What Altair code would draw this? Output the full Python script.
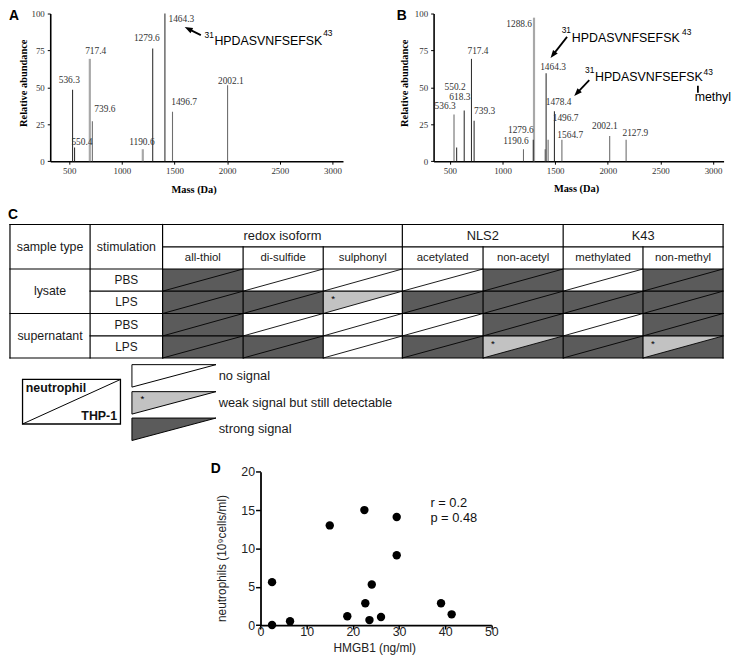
import math
import altair as alt
import pandas as pd

SANS = "Liberation Sans"
SERIF = "Liberation Serif"

# ============================ DATA ============================
# Panel A - MALDI spectrum (peak mass, relative abundance, tone)
A_MASS = [532, 551, 696, 720, 1199, 1293, 1409, 1481, 2004]
A_ABUNDANCE = [48.3, 9.2, 69.3, 27.0, 8.1, 76.4, 100.0, 33.5, 51.5]
A_TONE = ["dark", "dark", "light", "mid", "light", "dark", "dark", "mid", "mid"]
A_PEAK_LABELS = ["536.3", "550.4", "717.4", "739.6", "1190.6", "1279.6", "1464.3", "1496.7", "2002.1"]
A_LABEL_MASS = [501, 621, 752, 839, 1190, 1237, 1565, 1591, 2035]
A_LABEL_ABUNDANCE = [54.9, 12.9, 74.7, 35.6, 12.9, 83.3, 96.1, 40.3, 54.3]

# Panel B - MALDI spectrum
B_MASS = [539, 564, 636, 705, 730, 1199, 1299, 1292, 1405, 1414, 1433, 1493, 1564, 2018, 2174]
B_ABUNDANCE = [31.7, 9.2, 34.3, 69.3, 27.4, 8.1, 97.2, 14.6, 8.1, 59.6, 14.6, 33.9, 14.6, 17.1, 14.6]
B_TONE = ["mid", "dark", "dark", "dark", "dark", "mid", "light", "dark", "mid", "dark", "mid",
          "dark", "mid", "mid", "mid"]
B_PEAK_LABELS = ["536.3", "550.2", "618.3", "717.4", "739.3", "1190.6", "1279.6", "1288.6",
                 "1464.3", "1478.4", "1496.7", "1564.7", "2002.1", "2127.9"]
B_LABEL_MASS = [455, 549, 595, 767, 830, 1127, 1174, 1158, 1480, 1533, 1599, 1643, 1972, 2262]
B_LABEL_ABUNDANCE = [37.1, 50.4, 43.5, 74.7, 33.9, 13.5, 21.4, 92.9, 63.5, 39.8, 29.2, 17.8, 23.6, 19.3]

PEPTIDE = "HPDASVNFSEFSK"
PEP_FIRST, PEP_LAST = "31", "43"
# annotation anchors in data units: (sup1 mass, sup1 ab, main mass, main ab, sup2 mass, sup2 ab)
A_PEPTIDES = [(1785, 85.4, 1879, 81.1, 2912, 86.5)]
A_ARROWS = [(1750, 85.4, 1597, 90.8)]  # tail mass, tail ab, tip mass, tip ab
B_PEPTIDES = [(1562, 88.6, 1658, 83.3, 2706, 87.6), (1784, 61.8, 1878, 57.1, 2910, 60.7)]
B_ARROWS = [(1613, 84.2, 1456, 69.9), (1824, 54.9, 1681, 44.2)]
B_METHYL = ("methyl", 2825, 43.5)
B_METHYL_BAR = (2856, 51.1, 46.4)

# Panel C - table
GROUPS = ["redox isoform", "NLS2", "K43"]
GROUP_SPAN = [3, 2, 2]
SUBCOLS = ["all-thiol", "di-sulfide", "sulphonyl", "acetylated", "non-acetyl", "methylated", "non-methyl"]
SAMPLE_TYPES = ["lysate", "supernatant"]
STIMULATIONS = ["PBS", "LPS", "PBS", "LPS"]
# 0 = no signal, 1 = weak signal, 2 = strong signal
NEUTROPHIL_SIGNAL = [
    [2, 0, 0, 0, 2, 0, 2],
    [2, 2, 1, 2, 2, 2, 2],
    [2, 0, 0, 0, 2, 0, 2],
    [2, 2, 0, 2, 1, 2, 1],
]
THP1_SIGNAL = [
    [2, 0, 0, 0, 2, 0, 2],
    [2, 2, 0, 2, 2, 2, 2],
    [2, 0, 0, 0, 2, 0, 2],
    [2, 2, 0, 2, 2, 2, 2],
]
LEGEND_LABELS = ["no signal", "weak signal but still detectable", "strong signal"]

# Panel D - scatter
D_HMGB1 = [2.5, 2.5, 6.4, 15.0, 18.8, 22.5, 22.7, 23.6, 24.1, 26.1, 29.5, 29.5, 39.1, 41.4]
D_NEUTROPHILS = [5.6, 0.0, 0.5, 13.0, 1.15, 15.0, 2.85, 0.65, 5.3, 1.05, 14.1, 9.1, 2.85, 1.4]
D_STATS = ["r = 0.2", "p = 0.48"]
D_STATS_POS = [(36.8, 15.95), (36.8, 14.0)]

PANEL_LETTERS = ["A", "B", "C", "D"]

# ============================ LAYOUT ============================
W, H = 731, 649
M = 8  # page margin


def px(v):
    return v - M


SPEC_Y_PX = (159.3, 10.0)
A_X_DOMAIN, A_X_PX = (320, 3100), (50.7, 346.7)
B_X_DOMAIN, B_X_PX = (345, 3100), (438.3, 731.5)
D_X_PX, D_Y_PX = (263.3, 496.7), (628.3, 473.3)

COL_EDGES = [10, 91, 164.3, 245.7, 326.7, 406.7, 488.3, 569.3, 650, 731]
ROW_EDGES = [223.3, 246, 268.3, 290.7, 313.3, 336, 358.3]
LEG_BOX = (22.7, 380, 121.7, 425)
GLYPH_X = (133.3, 218.3)
GLYPH_TOP = [365, 392.3, 419]
GLYPH_H = 22.7
LEG_TEXT_X = 221
LETTER_POS = [(9, 13), (401, 13), (8, 213.5), (213, 471)]

TONE_COLOR = {"dark": "#333333", "mid": "#6e6e6e", "light": "#a8a8a8"}
TONE_WIDTH = {"dark": 1.1, "mid": 1.1, "light": 2.2}
CODE_COLOR = ["#ffffff", "#c2c2c2", "#5b5b5b"]
HEAD_SHAPE = "M0,-1L0.75,1L-0.75,1Z"
HEAD_SIZE = 64
HEAD_BACK = 4.0


def spectrum_layers(mass, abund, tone, labels, lab_m, lab_a, xdom, xpx, peptides, arrows,
                    ytitle_x, xtitle_x, xtitle_y, methyl=None, methyl_bar=None):
    xs = alt.Scale(domain=list(xdom), range=[px(xpx[0]), px(xpx[1])], nice=False, zero=False)
    ys = alt.Scale(domain=[0, 100], range=[px(SPEC_Y_PX[0]), px(SPEC_Y_PX[1])], nice=False, zero=False)
    x_axis = alt.Axis(orient="bottom", offset=px(SPEC_Y_PX[0]) - H,
                      values=[500, 1000, 1500, 2000, 2500, 3000], format="d", grid=False,
                      labelFlush=False, domainColor="black", domainWidth=1.6, tickColor="black",
                      tickSize=3, tickWidth=1, labelFont=SERIF, labelFontSize=9, labelColor="#333",
                      labelPadding=2, title="Mass (Da)", titleFont=SERIF, titleFontSize=10.5,
                      titleFontWeight="bold", titleColor="black", titleX=px(xtitle_x),
                      titleY=xtitle_y - SPEC_Y_PX[0], titleBaseline="middle")
    y_axis = alt.Axis(orient="left", offset=-px(xpx[0]), values=[0, 25, 50, 75, 100], grid=False,
                      labelFlush=False, domainColor="black", domainWidth=1.6, tickColor="black",
                      tickSize=3, labelFont=SERIF, labelFontSize=9, labelColor="#333", labelPadding=3,
                      title="Relative abundance", titleFont=SERIF, titleFontSize=10.5,
                      titleFontWeight="bold", titleColor="black", titleX=ytitle_x - xpx[0],
                      titleY=px(80), titleBaseline="middle", titleAngle=270)

    peaks = pd.DataFrame({"m": mass, "a": abund, "base": 0,
                          "col": [TONE_COLOR[t] for t in tone],
                          "w": [TONE_WIDTH[t] for t in tone]})
    peak_layer = alt.Chart(peaks).mark_rule().encode(
        x=alt.X("m:Q", scale=xs, axis=x_axis),
        y=alt.Y("a:Q", scale=ys, axis=y_axis),
        y2=alt.Y2("base:Q"),
        color=alt.Color("col:N", scale=None),
        strokeWidth=alt.StrokeWidth("w:Q", scale=None),
    )
    labs = pd.DataFrame({"t": labels, "m": lab_m, "a": lab_a})
    lab_layer = alt.Chart(labs).mark_text(font=SERIF, fontSize=9.5, color="#333",
                                          align="center", baseline="middle").encode(
        x=alt.X("m:Q", scale=xs, axis=None), y=alt.Y("a:Q", scale=ys, axis=None), text="t:N")

    rows = []
    for (m1, a1, m2, a2, m3, a3) in peptides:
        rows.append(dict(t=PEP_FIRST, m=m1, a=a1, fs=8.5))
        rows.append(dict(t=PEPTIDE, m=m2, a=a2, fs=12.5))
        rows.append(dict(t=PEP_LAST, m=m3, a=a3, fs=8.5))
    if methyl is not None:
        rows.append(dict(t=methyl[0], m=methyl[1], a=methyl[2], fs=12.5))
    pep_layer = alt.Chart(pd.DataFrame(rows)).mark_text(font=SANS, color="black", align="left",
                                                        baseline="middle").encode(
        x=alt.X("m:Q", scale=xs, axis=None), y=alt.Y("a:Q", scale=ys, axis=None), text="t:N",
        size=alt.Size("fs:Q", scale=None))

    kx = (xpx[1] - xpx[0]) / (xdom[1] - xdom[0])
    ky = (SPEC_Y_PX[0] - SPEC_Y_PX[1]) / 100.0
    shafts, heads = [], []
    for tm, ta, hm, ha in arrows:
        dx = (hm - tm) * kx
        dy = -(ha - ta) * ky
        L = math.hypot(dx, dy)
        ux, uy = dx / L, dy / L
        ang = math.degrees(math.atan2(ux, -uy)) % 360
        cm = hm - ux * HEAD_BACK / kx
        ca = ha + uy * HEAD_BACK / ky
        shafts.append(dict(m1=tm, a1=ta, m2=cm, a2=ca))
        heads.append(dict(m=cm, a=ca, ang=ang))
    if methyl_bar is not None:
        shafts.append(dict(m1=methyl_bar[0], a1=methyl_bar[1], m2=methyl_bar[0], a2=methyl_bar[2]))
    shaft_layer = alt.Chart(pd.DataFrame(shafts)).mark_rule(color="black", strokeWidth=1.8).encode(
        x=alt.X("m1:Q", scale=xs, axis=None), y=alt.Y("a1:Q", scale=ys, axis=None),
        x2=alt.X2("m2:Q"), y2=alt.Y2("a2:Q"))
    head_layer = alt.Chart(pd.DataFrame(heads)).mark_point(
        shape=HEAD_SHAPE, filled=True, size=HEAD_SIZE, color="black", opacity=1, strokeWidth=0).encode(
        x=alt.X("m:Q", scale=xs, axis=None), y=alt.Y("a:Q", scale=ys, axis=None),
        angle=alt.Angle("ang:Q", scale=None))
    return [peak_layer, lab_layer, pep_layer, shaft_layer, head_layer]


layers_a = spectrum_layers(A_MASS, A_ABUNDANCE, A_TONE, A_PEAK_LABELS, A_LABEL_MASS, A_LABEL_ABUNDANCE,
                           A_X_DOMAIN, A_X_PX, A_PEPTIDES, A_ARROWS,
                           ytitle_x=23.3, xtitle_x=195.7, xtitle_y=187.7)
layers_b = spectrum_layers(B_MASS, B_ABUNDANCE, B_TONE, B_PEAK_LABELS, B_LABEL_MASS, B_LABEL_ABUNDANCE,
                           B_X_DOMAIN, B_X_PX, B_PEPTIDES, B_ARROWS,
                           ytitle_x=409.3, xtitle_x=582.3, xtitle_y=186.7,
                           methyl=B_METHYL, methyl_bar=B_METHYL_BAR)

# ---------------- Panel D ----------------
dxs = alt.Scale(domain=[0, 50], range=[px(D_X_PX[0]), px(D_X_PX[1])], nice=False, zero=False)
dys = alt.Scale(domain=[0, 20], range=[px(D_Y_PX[0]), px(D_Y_PX[1])], nice=False, zero=False)
d_x_axis = alt.Axis(orient="bottom", offset=px(D_Y_PX[0]) - H, values=[0, 10, 20, 30, 40, 50],
                    grid=False, labelFlush=False, domainColor="black", domainWidth=1.8,
                    tickColor="black", tickWidth=1.5, tickSize=4, labelFont=SANS, labelFontSize=12.5,
                    labelColor="#222", labelPadding=-3, title="HMGB1 (ng/ml)", titleFont=SANS,
                    titleFontSize=12, titleFontWeight="normal", titleColor="#222",
                    titleX=px(378.3), titleY=651.5 - D_Y_PX[0], titleBaseline="middle")
d_y_axis = alt.Axis(orient="left", offset=-px(D_X_PX[0]), values=[0, 5, 10, 15, 20], grid=False,
                    labelFlush=False, domainColor="black", domainWidth=1.8, tickColor="black",
                    tickWidth=1.5, tickSize=5, labelFont=SANS, labelFontSize=12.5, labelColor="#222",
                    labelPadding=1, title="neutrophils (10⁹cells/ml)", titleFont=SANS,
                    titleFontSize=12, titleFontWeight="normal", titleColor="#222",
                    titleX=224 - D_X_PX[0], titleY=px(560.5), titleBaseline="middle", titleAngle=270)
d_points = alt.Chart(pd.DataFrame({"h": D_HMGB1, "n": D_NEUTROPHILS})).mark_circle(
    size=72, color="black", opacity=1).encode(
    x=alt.X("h:Q", scale=dxs, axis=d_x_axis), y=alt.Y("n:Q", scale=dys, axis=d_y_axis))
d_stats = alt.Chart(pd.DataFrame({"t": D_STATS, "h": [p[0] for p in D_STATS_POS],
                                  "n": [p[1] for p in D_STATS_POS]})).mark_text(
    font=SANS, fontSize=13, color="#111", align="left", baseline="middle").encode(
    x=alt.X("h:Q", scale=dxs, axis=None), y=alt.Y("n:Q", scale=dys, axis=None), text="t:N")
layers_d = [d_points, d_stats]

# ---------------- Panel C (table) + letters, in page coordinates ----------------
pxs = alt.Scale(domain=[0, 739], range=[-M, 739 - M], nice=False, zero=False)
pys = alt.Scale(domain=[0, 665], range=[-M, 665 - M], nice=False, zero=False)


def PX(f):
    return alt.X(f, scale=pxs, axis=None)


def PY(f):
    return alt.Y(f, scale=pys, axis=None)


def mid(a, b):
    return (a + b) / 2.0


cells, tris, diags, stars = [], [], [], []
for r in range(len(STIMULATIONS)):
    y0, y1 = ROW_EDGES[r + 2], ROW_EDGES[r + 3]
    for c in range(len(SUBCOLS)):
        x0, x1 = COL_EDGES[c + 2], COL_EDGES[c + 3]
        cid = f"{r}-{c}"
        cells.append(dict(x0=x0, x1=x1, y0=y0, y1=y1, fill=CODE_COLOR[THP1_SIGNAL[r][c]]))
        f = CODE_COLOR[NEUTROPHIL_SIGNAL[r][c]]
        tris.append(dict(id=cid, x=x0, yt=y0, yb=y1, fill=f))
        tris.append(dict(id=cid, x=x1, yt=y0, yb=y0, fill=f))
        diags.append(dict(x0=x0, y0=y1, x1=x1, y1=y0))
        if NEUTROPHIL_SIGNAL[r][c] == 1:
            stars.append(dict(x=x0 + 10, y=y0 + 8, t="*"))

cell_layer = alt.Chart(pd.DataFrame(cells)).mark_rect(strokeWidth=0).encode(
    x=PX("x0:Q"), x2="x1:Q", y=PY("y0:Q"), y2="y1:Q", color=alt.Color("fill:N", scale=None))
tri_layer = alt.Chart(pd.DataFrame(tris)).mark_area(opacity=1).encode(
    x=PX("x:Q"), y=PY("yt:Q"), y2="yb:Q", detail="id:N", color=alt.Color("fill:N", scale=None))
diag_layer = alt.Chart(pd.DataFrame(diags)).mark_rule(color="black", strokeWidth=0.9).encode(
    x=PX("x0:Q"), y=PY("y0:Q"), x2="x1:Q", y2="y1:Q")

L_, R_ = COL_EDGES[0], COL_EDGES[-1]
top_, bot_ = ROW_EDGES[0], ROW_EDGES[-1]
lines = []
for i in (0, 2, 4, 6):
    lines.append(dict(x0=L_, y0=ROW_EDGES[i], x1=R_, y1=ROW_EDGES[i]))
lines.append(dict(x0=COL_EDGES[2], y0=ROW_EDGES[1], x1=R_, y1=ROW_EDGES[1]))
for i in (3, 5):
    lines.append(dict(x0=COL_EDGES[1], y0=ROW_EDGES[i], x1=R_, y1=ROW_EDGES[i]))
group_bounds = {2}
acc = 2
for s in GROUP_SPAN:
    acc += s
    group_bounds.add(acc)
for j, xe in enumerate(COL_EDGES):
    ys0 = top_ if (j <= 2 or j in group_bounds) else ROW_EDGES[1]
    lines.append(dict(x0=xe, y0=ys0, x1=xe, y1=bot_))
line_layer = alt.Chart(pd.DataFrame(lines)).mark_rule(color="black", strokeWidth=1.2,
                                                      strokeCap="square").encode(
    x=PX("x0:Q"), y=PY("y0:Q"), x2="x1:Q", y2="y1:Q")

texts = [dict(t="sample type", x=mid(COL_EDGES[0], COL_EDGES[1]), y=mid(ROW_EDGES[0], ROW_EDGES[2]), fs=12.5),
         dict(t="stimulation", x=mid(COL_EDGES[1], COL_EDGES[2]), y=mid(ROW_EDGES[0], ROW_EDGES[2]), fs=12.5)]
acc = 2
for g, s in zip(GROUPS, GROUP_SPAN):
    texts.append(dict(t=g, x=mid(COL_EDGES[acc], COL_EDGES[acc + s]), y=mid(ROW_EDGES[0], ROW_EDGES[1]), fs=13))
    acc += s
for k, sc in enumerate(SUBCOLS):
    texts.append(dict(t=sc, x=mid(COL_EDGES[k + 2], COL_EDGES[k + 3]), y=mid(ROW_EDGES[1], ROW_EDGES[2]), fs=11.5))
for k, st in enumerate(SAMPLE_TYPES):
    texts.append(dict(t=st, x=mid(COL_EDGES[0], COL_EDGES[1]), y=mid(ROW_EDGES[2 + 2 * k], ROW_EDGES[4 + 2 * k]), fs=12.5))
for k, s in enumerate(STIMULATIONS):
    texts.append(dict(t=s, x=mid(COL_EDGES[1], COL_EDGES[2]), y=mid(ROW_EDGES[2 + k], ROW_EDGES[3 + k]), fs=12))
text_layer = alt.Chart(pd.DataFrame(texts)).mark_text(font=SANS, color="#1a1a1a", align="center",
                                                      baseline="middle").encode(
    x=PX("x:Q"), y=PY("y:Q"), text="t:N", size=alt.Size("fs:Q", scale=None))

# legend
glyphs, gtexts = [], []
for k, lab in enumerate(LEGEND_LABELS):
    t0 = GLYPH_TOP[k]
    glyphs.append(dict(id=k, x=GLYPH_X[0], yt=t0, yb=t0 + GLYPH_H, fill=CODE_COLOR[k]))
    glyphs.append(dict(id=k, x=GLYPH_X[1], yt=t0, yb=t0, fill=CODE_COLOR[k]))
    gtexts.append(dict(t=lab, x=LEG_TEXT_X, y=t0 + GLYPH_H / 2))
    if k == 1:
        stars.append(dict(x=GLYPH_X[0] + 10.7, y=t0 + 7, t="*"))
glyph_layer = alt.Chart(pd.DataFrame(glyphs)).mark_area(opacity=1, stroke="black", strokeWidth=1).encode(
    x=PX("x:Q"), y=PY("yt:Q"), y2="yb:Q", detail="id:N", color=alt.Color("fill:N", scale=None))
star_layer = alt.Chart(pd.DataFrame(stars)).mark_text(font=SANS, fontSize=10, color="black",
                                                      align="center", baseline="middle").encode(
    x=PX("x:Q"), y=PY("y:Q"), text="t:N")
gtext_layer = alt.Chart(pd.DataFrame(gtexts)).mark_text(font=SANS, fontSize=13, color="#1a1a1a",
                                                        align="left", baseline="middle").encode(
    x=PX("x:Q"), y=PY("y:Q"), text="t:N")
box_df = pd.DataFrame([dict(x0=LEG_BOX[0], y0=LEG_BOX[1], x1=LEG_BOX[2], y1=LEG_BOX[3])])
box_layer = alt.Chart(box_df).mark_rect(fill="white", stroke="black", strokeWidth=1.3).encode(
    x=PX("x0:Q"), x2="x1:Q", y=PY("y0:Q"), y2="y1:Q")
box_diag = alt.Chart(box_df).mark_rule(color="black", strokeWidth=1).encode(
    x=PX("x0:Q"), y=PY("y1:Q"), x2="x1:Q", y2="y0:Q")
key_left = alt.Chart(pd.DataFrame([dict(t="neutrophil", x=LEG_BOX[0] + 3.3, y=LEG_BOX[1] + 8.3)])).mark_text(
    font=SANS, fontSize=12.5, fontWeight="bold", color="#111", align="left", baseline="middle").encode(
    x=PX("x:Q"), y=PY("y:Q"), text="t:N")
key_right = alt.Chart(pd.DataFrame([dict(t="THP-1", x=LEG_BOX[2] - 3.4, y=LEG_BOX[3] - 8.3)])).mark_text(
    font=SANS, fontSize=12.5, fontWeight="bold", color="#111", align="right", baseline="middle").encode(
    x=PX("x:Q"), y=PY("y:Q"), text="t:N")

letters = pd.DataFrame({"t": PANEL_LETTERS, "x": [p[0] for p in LETTER_POS], "y": [p[1] for p in LETTER_POS]})
letter_layer = alt.Chart(letters).mark_text(font=SANS, fontSize=14, fontWeight="bold", color="black",
                                            align="left", baseline="middle").encode(
    x=PX("x:Q"), y=PY("y:Q"), text="t:N")

layers_c = [cell_layer, tri_layer, diag_layer, line_layer, text_layer, glyph_layer, star_layer,
            gtext_layer, box_layer, box_diag, key_left, key_right, letter_layer]

chart = alt.layer(*layers_a, *layers_b, *layers_d, *layers_c).resolve_scale(
    x="independent", y="independent").resolve_axis(x="independent", y="independent").properties(
    width=W, height=H, padding=0, autosize=alt.AutoSizeParams(type="none")
).configure_view(stroke=None)

chart.save("out.html", embed_options={"renderer": "svg", "actions": False})
